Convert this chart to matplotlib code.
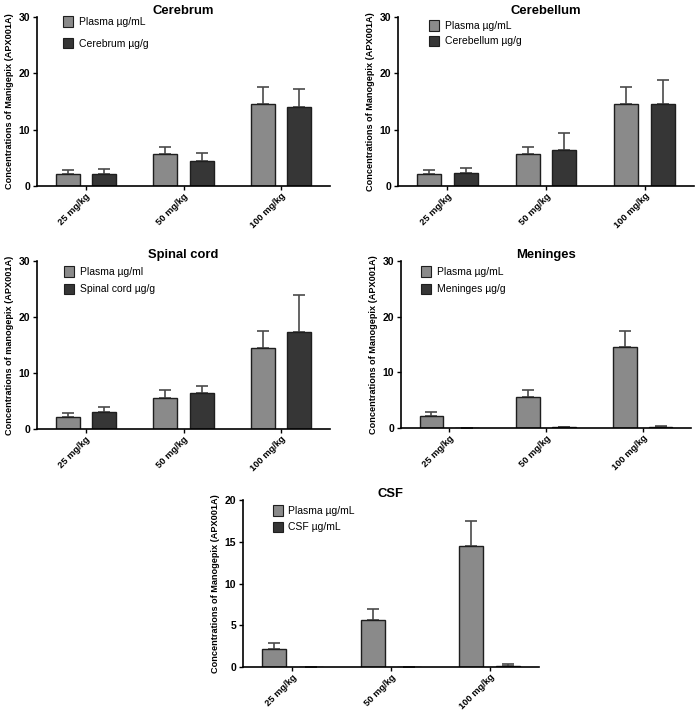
import numpy as np
import matplotlib
matplotlib.use("Agg")
import matplotlib.pyplot as plt
from matplotlib.patches import Patch

plt.rcParams['font.family'] = ['Liberation Sans', 'DejaVu Sans']

doses = ['25 mg/kg', '50 mg/kg', '100 mg/kg']

plasma_mean = [2.2, 5.6, 14.5]
plasma_sd = [0.7, 1.3, 3.0]

cerebrum_mean = [2.2, 4.5, 14.1]
cerebrum_sd = [0.8, 1.4, 3.1]

cerebellum_mean = [2.3, 6.4, 14.6]
cerebellum_sd = [0.85, 3.0, 4.2]

spinal_mean = [3.0, 6.4, 17.4]
spinal_sd = [0.85, 1.2, 6.5]

meninges_mean = [0.05, 0.1, 0.2]
meninges_sd = [0.03, 0.07, 0.12]

csf_mean = [0.01, 0.03, 0.15]
csf_sd = [0.01, 0.02, 0.15]

panels = [
    # title, tissue values, sd, plasma label, tissue label, ylabel, ymax, yticks,
    # axes rect in px (left, top, w, h), legend x (axes frac), legend top (px), spacing
    ('Cerebrum', cerebrum_mean, cerebrum_sd, 'Plasma µg/mL', 'Cerebrum µg/g',
     'Concentrations of Manigepix (APX001A)', 30, [0, 10, 20, 30],
     [37, 17, 293, 169], 0.089, -1, 1.05),
    ('Cerebellum', cerebellum_mean, cerebellum_sd, 'Plasma µg/mL', 'Cerebellum µg/g',
     'Concentrations of Manogepix (APX001A)', 30, [0, 10, 20, 30],
     [398, 17, 296, 169], 0.105, 3, 0.45),
    ('Spinal cord', spinal_mean, spinal_sd, 'Plasma µg/ml', 'Spinal cord µg/g',
     'Concentrations of manogepix (APX001A)', 30, [0, 10, 20, 30],
     [37, 261, 293, 168], 0.092, 5, 0.65),
    ('Meninges', meninges_mean, meninges_sd, 'Plasma µg/mL', 'Meninges µg/g',
     'Concentrations of Manogepix (APX001A)', 30, [0, 10, 20, 30],
     [401, 261, 290, 167], 0.069, 5, 0.65),
    ('CSF', csf_mean, csf_sd, 'Plasma µg/mL', 'CSF µg/mL',
     'Concentrations of Manogepix (APX001A)', 20, [0, 5, 10, 15, 20],
     [243, 500, 296, 167], 0.10, 5, 0.55),
]

W, H = 696, 712
fig = plt.figure(figsize=(W / 100, H / 100), dpi=100)

light = '#8a8a8a'
dark = '#363636'
edge = '#1e1e1e'
x = np.arange(len(doses))
bw = 0.245
off = 0.186

for title, tis, tis_sd, plab, tlab, ylab, ymax, yt, r, lg_x, lg_top, ls in panels:
    left, top, w, h = r
    ax = fig.add_axes([left / W, 1 - (top + h) / H, w / W, h / H])
    ax.bar(x - off, plasma_mean, bw, color=light, edgecolor=edge, linewidth=1.0, zorder=2)
    ax.bar(x + off, tis, bw, color=dark, edgecolor=edge, linewidth=1.0, zorder=2)
    ax.errorbar(x - off, plasma_mean, yerr=[np.zeros(3), plasma_sd], fmt='none',
                ecolor='#4a4a4a', elinewidth=1.2, capsize=4.5, capthick=1.2, zorder=1)
    ax.errorbar(x + off, tis, yerr=[np.zeros(3), tis_sd], fmt='none',
                ecolor='#4a4a4a', elinewidth=1.2, capsize=4.5, capthick=1.2, zorder=1)
    ax.set_xlim(-0.5, 2.5)
    ax.set_ylim(0, ymax)
    ax.set_yticks(yt)
    ax.set_xticks(x)
    ax.set_xticklabels(doses, rotation=45, ha='right', rotation_mode='anchor',
                       fontsize=6.7, fontweight='bold')
    for lb in ax.get_yticklabels():
        lb.set_fontsize(7.5)
        lb.set_fontweight('bold')
    ax.tick_params(axis='y', length=3, width=1.0, pad=2)
    ax.tick_params(axis='x', length=3, width=1.0, pad=1)
    for s in ['top', 'right']:
        ax.spines[s].set_visible(False)
    for s in ['left', 'bottom']:
        ax.spines[s].set_linewidth(1.2)
    ax.set_title(title, fontsize=9.4, fontweight='bold', pad=1)
    ax.set_ylabel(ylab, fontsize=6.6, fontweight='bold', labelpad=3)
    handles = [Patch(facecolor=light, edgecolor=edge, linewidth=0.8),
               Patch(facecolor=dark, edgecolor=edge, linewidth=0.8)]
    ax.legend(handles, [plab, tlab], loc='upper left',
              bbox_to_anchor=(lg_x, 1 - lg_top / h),
              frameon=False, fontsize=7.5, handlelength=1.0, handleheight=1.2,
              handletextpad=0.5, labelspacing=ls, borderaxespad=0, borderpad=0)

fig.savefig('out.png', dpi=100)
